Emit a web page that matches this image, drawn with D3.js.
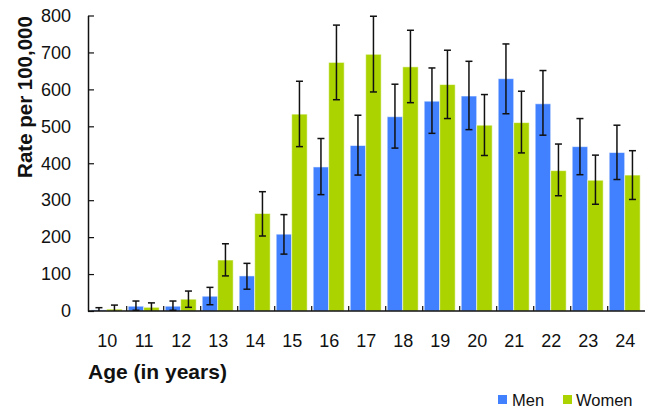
<!DOCTYPE html>
<html>
<head>
<meta charset="utf-8">
<script src="https://cdn.jsdelivr.net/npm/d3@7/dist/d3.min.js"></script>
<style>
  body { margin: 0; background: #fff; }
  svg { display: block; }
  text { font-family: "Liberation Sans", Arial, sans-serif; fill: #111; }
</style>
</head>
<body>
<svg id="chart" width="645" height="412"></svg>
<script>
const ages = [10, 11, 12, 13, 14, 15, 16, 17, 18, 19, 20, 21, 22, 23, 24];
const men      = [3, 13, 13, 40, 95, 208, 390, 448, 526, 568, 582, 629, 561, 445, 429];
const menLow   = [0, 2, 2, 17, 59, 154, 315, 368, 441, 481, 491, 534, 476, 369, 356];
const menHigh  = [9, 27, 27, 64, 129, 261, 467, 530, 614, 658, 676, 723, 651, 521, 503];
const women     = [5, 10, 32, 138, 264, 533, 673, 695, 661, 613, 503, 510, 380, 354, 368];
const womenLow  = [0, 0, 10, 95, 203, 445, 572, 593, 564, 521, 421, 428, 312, 289, 302];
const womenHigh = [16, 22, 54, 182, 323, 622, 774, 798, 760, 706, 586, 595, 452, 422, 434];
const yTicks = [0, 100, 200, 300, 400, 500, 600, 700, 800];
const seriesNames = ["Men", "Women"];
const colors = { Men: "#4181FF", Women: "#AAD300" };

const svg = d3.select("#chart");
const x = d3.scaleBand().domain(ages).range([89.7, 644.7]).paddingInner(0).paddingOuter(0);
const xs = d3.scaleBand().domain(seriesNames).range([1.5, 32.5]);
const y = d3.scaleLinear().domain([0, 800]).range([311, 15.5]);

const series = [
  { name: "Men", vals: men, lo: menLow, hi: menHigh },
  { name: "Women", vals: women, lo: womenLow, hi: womenHigh }
];

// bars
series.forEach(s => {
  const g = svg.append("g");
  g.selectAll("rect").data(ages).join("rect")
    .attr("x", (d) => x(d) + xs(s.name))
    .attr("y", (d, i) => y(s.vals[i]))
    .attr("width", xs.bandwidth())
    .attr("height", (d, i) => y(0) - y(s.vals[i]))
    .attr("fill", colors[s.name])
    .attr("stroke", "rgba(255,255,255,0.55)")
    .attr("stroke-width", 1);
});

// error bars
series.forEach(s => {
  const g = svg.append("g").attr("stroke", "#111").attr("stroke-width", 1.5).attr("fill", "none");
  ages.forEach((a, i) => {
    const cx = x(a) + xs(s.name) + xs.bandwidth() / 2;
    const y1 = y(s.hi[i]), y0 = y(s.lo[i]);
    g.append("line").attr("x1", cx).attr("x2", cx).attr("y1", y1).attr("y2", y0);
    g.append("line").attr("x1", cx - 3.5).attr("x2", cx + 3.5).attr("y1", y1).attr("y2", y1);
    if (s.lo[i] > 0) g.append("line").attr("x1", cx - 3.5).attr("x2", cx + 3.5).attr("y1", y0).attr("y2", y0);
  });
});

// y axis
const yAxis = d3.axisLeft(y).tickValues(yTicks).tickSize(-6).tickPadding(17).tickSizeOuter(0);
const gy = svg.append("g").attr("transform", "translate(88,0)").call(yAxis);
gy.select(".domain").attr("stroke", "#111").attr("stroke-width", 1.5);
gy.selectAll(".tick line").attr("stroke", "#111").attr("stroke-width", 1.2);
gy.selectAll(".tick text").attr("font-size", 18).attr("font-family", "Liberation Sans, Arial, sans-serif").attr("fill", "#111");

// x axis baseline + inward ticks at band boundaries
svg.append("line").attr("x1", 88).attr("x2", 645).attr("y1", y(0)).attr("y2", y(0))
  .attr("stroke", "#111").attr("stroke-width", 1.5);
svg.append("g").selectAll("line").data(ages.slice(1)).join("line")
  .attr("x1", d => x(d)).attr("x2", d => x(d))
  .attr("y1", y(0)).attr("y2", y(0) - 5)
  .attr("stroke", "#111").attr("stroke-width", 1.2);
svg.append("g").selectAll("text").data(ages).join("text")
  .attr("x", d => x(d) + x.bandwidth() / 2 - 1)
  .attr("y", 347)
  .attr("text-anchor", "middle")
  .attr("font-size", 18)
  .text(d => d);

// axis titles
svg.append("text").attr("x", 88).attr("y", 379)
  .attr("font-size", 21).attr("font-weight", "bold")
  .text("Age (in years)");
svg.append("text")
  .attr("transform", "translate(32,97) rotate(-90)")
  .attr("text-anchor", "middle")
  .attr("font-size", 20.5).attr("font-weight", "bold")
  .text("Rate per 100,000");

// legend
const legendItems = [
  { name: "Men", rx: 498, tx: 512 },
  { name: "Women", rx: 563, tx: 576 }
];
const lg = svg.append("g");
legendItems.forEach(it => {
  lg.append("rect").attr("x", it.rx).attr("y", 395).attr("width", 9).attr("height", 9).attr("fill", colors[it.name]);
  lg.append("text").attr("x", it.tx).attr("y", 406).attr("font-size", 16.5).text(it.name);
});
</script>
</body>
</html>
